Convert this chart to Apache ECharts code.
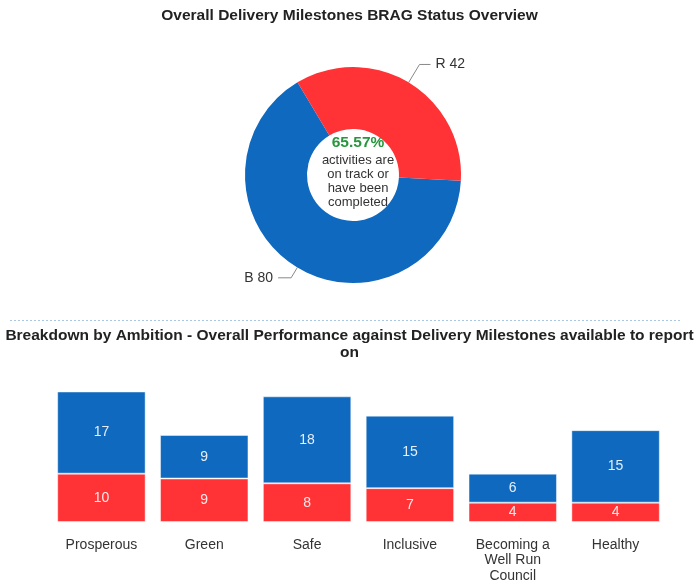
<!DOCTYPE html>
<html>
<head>
<meta charset="utf-8">
<style>
  html, body { margin: 0; padding: 0; background: #fff; }
  #chart { width: 699px; height: 587px; }
</style>
<script src="https://cdn.jsdelivr.net/npm/echarts@6/dist/echarts.min.js"></script>
</head>
<body>
<div id="chart"></div>
<script>
// BRAG status totals (donut)
const bragNames = ['B', 'R'];
const bragValues = [80, 42];

// Breakdown by ambition (stacked bars)
const ambitions = ['Prosperous', 'Green', 'Safe', 'Inclusive', 'Becoming a\nWell Run\nCouncil', 'Healthy'];
const redValues = [10, 9, 8, 7, 4, 4];
const blueValues = [17, 9, 18, 15, 6, 15];

const BLUE = '#0f69be';
const RED = '#ff3336';
const FONT = 'Arial, "Liberation Sans", Helvetica, sans-serif';

const onTrackPct = (bragValues[0] / bragValues.reduce((a, b) => a + b, 0) * 100).toFixed(2) + '%';

// per-slice leader line lengths
const leader = {
  B: { length: 12, length2: 13 },
  R: { length: 21, length2: 11 }
};

const chart = echarts.init(document.getElementById('chart'));

chart.setOption({
  animation: false,
  textStyle: { fontFamily: FONT },
  title: [
    {
      text: 'Overall Delivery Milestones BRAG Status Overview',
      left: 'center', top: 3,
      textStyle: { fontSize: 15.5, fontWeight: 'bold', color: '#222', fontFamily: FONT }
    },
    {
      text: 'Breakdown by Ambition - Overall Performance against Delivery Milestones available to report\non',
      left: 'center', top: 322,
      textStyle: { fontSize: 15.5, fontWeight: 'bold', color: '#222', fontFamily: FONT, lineHeight: 17, align: 'center' }
    },
    {
      text: '{p|' + onTrackPct + '}\n{t|activities are}\n{t|on track or}\n{t|have been}\n{t|completed}',
      left: 353, top: 128,
      textAlign: 'center',
      textStyle: {
        fontFamily: FONT,
        rich: {
          p: { fontSize: 15.5, fontWeight: 'bold', color: '#27963c', lineHeight: 20, align: 'center', fontFamily: FONT },
          t: { fontSize: 13, fontWeight: 'normal', color: '#333', lineHeight: 14, align: 'center', fontFamily: FONT }
        }
      }
    }
  ],
  graphic: [
    {
      type: 'line',
      shape: { x1: 10, y1: 320.5, x2: 682, y2: 320.5 },
      style: { stroke: '#a9c6e2', lineWidth: 1, lineDash: [2, 2] },
      silent: true
    }
  ],
  grid: { left: 50, right: 32, top: 377, bottom: 65 },
  xAxis: {
    type: 'category',
    data: ambitions,
    axisLine: { show: false },
    axisTick: { show: false },
    axisLabel: { color: '#333', fontSize: 14, margin: 15, lineHeight: 15.5, interval: 0, fontFamily: FONT }
  },
  yAxis: {
    type: 'value',
    min: 0, max: 30,
    show: false,
    splitLine: { show: false }
  },
  series: [
    {
      type: 'pie',
      center: [353, 175],
      radius: [46, 108],
      startAngle: -3,
      clockwise: true,
      avoidLabelOverlap: false,
      data: bragNames.map((n, i) => ({
        name: n,
        value: bragValues[i],
        itemStyle: { color: n === 'B' ? BLUE : RED },
        labelLine: leader[n]
      })),
      label: {
        formatter: '{b} {c}',
        color: '#333',
        fontSize: 14,
        fontFamily: FONT
      },
      labelLine: {
        lineStyle: { color: '#888', width: 1 }
      }
    },
    {
      type: 'bar',
      stack: 'total',
      data: redValues,
      barWidth: '86%',
      itemStyle: { color: RED, borderColor: 'rgba(255,255,255,0.45)', borderWidth: 1 },
      label: { show: true, position: 'inside', color: '#fbe9ea', fontSize: 14, fontFamily: FONT }
    },
    {
      type: 'bar',
      stack: 'total',
      data: blueValues,
      barWidth: '86%',
      itemStyle: { color: BLUE, borderColor: 'rgba(255,255,255,0.45)', borderWidth: 1 },
      label: { show: true, position: 'inside', color: '#e6eef8', fontSize: 14, fontFamily: FONT }
    }
  ]
});
</script>
</body>
</html>
